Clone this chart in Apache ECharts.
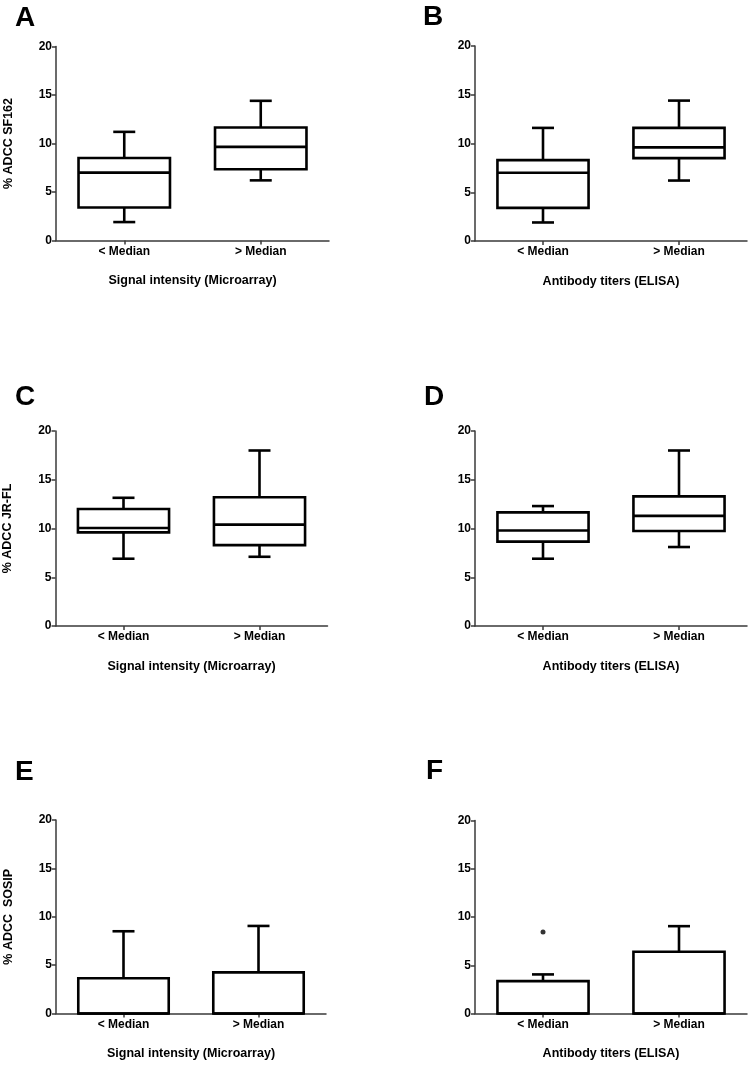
<!DOCTYPE html>
<html>
<head>
<meta charset="utf-8">
<script src="https://cdn.jsdelivr.net/npm/echarts@6/dist/echarts.min.js"></script>
<style>
html,body{margin:0;padding:0;background:#fff;}
#chart{width:752px;height:1066px;}
</style>
</head>
<body>
<div id="chart"></div>
<script>
// ---- data (each box: [min, Q1, median, Q3, max]) ----
const categories = ['< Median', '> Median'];
const yTicks = [0, 5, 10, 15, 20];
const panelLetters = ['A', 'B', 'C', 'D', 'E', 'F'];
const yTitles = ['% ADCC SF162', '', '% ADCC JR-FL', '', '% ADCC  SOSIP', ''];
const xTitles = ['Signal intensity (Microarray)', 'Antibody titers (ELISA)',
                 'Signal intensity (Microarray)', 'Antibody titers (ELISA)',
                 'Signal intensity (Microarray)', 'Antibody titers (ELISA)'];
const boxA = [[1.9, 3.4, 7.0, 8.5, 11.2], [6.2, 7.35, 9.65, 11.65, 14.4]];
const boxB = [[1.9, 3.4, 7.0, 8.3, 11.6], [6.2, 8.5, 9.6, 11.6, 14.4]];
const boxC = [[6.9, 9.6, 10.05, 12.0, 13.15], [7.1, 8.3, 10.4, 13.2, 18.0]];
const boxD = [[6.9, 8.65, 9.8, 11.65, 12.3], [8.1, 9.75, 11.3, 13.3, 18.0]];
const boxE = [[0, 0, 0, 3.65, 8.5], [0, 0, 0, 4.25, 9.05]];
const boxF = [[0, 0, 0, 3.35, 4.05], [0, 0, 0, 6.4, 9.05]];
const outliersF = [[0, 8.45]];

const panels = [boxA, boxB, boxC, boxD, boxE, boxF];
const outliers = [[], [], [], [], [], outliersF];

// ---- layout ----
const grids = [
  {left: 56, top: 46.5, width: 273, height: 194},
  {left: 475, top: 46, width: 272, height: 195},
  {left: 55.5, top: 431, width: 272, height: 195},
  {left: 475, top: 431, width: 272, height: 195},
  {left: 56, top: 820, width: 270, height: 193.5},
  {left: 475, top: 820.5, width: 272, height: 193}
];
const letterPos = [[15, 17], [423, 16], [15, 396], [424, 396], [15, 771], [426, 770]];
const FONT = '"Liberation Sans", Arial, Helvetica, sans-serif';
const AXIS_COLOR = '#3a3a3a';

function renderBox(params, api) {
  const xi = api.value(0);
  const vmin = api.value(1), q1 = api.value(2), med = api.value(3), q3 = api.value(4), vmax = api.value(5);
  const band = api.size([1, 0])[0];
  const bw = band * 0.67;
  const cw = 22;
  const pMin = api.coord([xi, vmin]);
  const pQ1 = api.coord([xi, q1]);
  const pMed = api.coord([xi, med]);
  const pQ3 = api.coord([xi, q3]);
  const pMax = api.coord([xi, vmax]);
  const cx = pMed[0];
  const st = {stroke: '#000', lineWidth: 2.6, fill: null};
  const children = [];
  if (vmax > q3) {
    children.push({type: 'line', shape: {x1: cx, y1: pQ3[1], x2: cx, y2: pMax[1]}, style: st});
    children.push({type: 'line', shape: {x1: cx - cw / 2, y1: pMax[1], x2: cx + cw / 2, y2: pMax[1]}, style: st});
  }
  if (vmin < q1) {
    children.push({type: 'line', shape: {x1: cx, y1: pQ1[1], x2: cx, y2: pMin[1]}, style: st});
    children.push({type: 'line', shape: {x1: cx - cw / 2, y1: pMin[1], x2: cx + cw / 2, y2: pMin[1]}, style: st});
  }
  children.push({type: 'rect', shape: {x: cx - bw / 2, y: pQ3[1], width: bw, height: pQ1[1] - pQ3[1]},
    style: {stroke: '#000', lineWidth: 2.6, fill: '#fff'}});
  children.push({type: 'line', shape: {x1: cx - bw / 2, y1: pMed[1], x2: cx + bw / 2, y2: pMed[1]}, style: st});
  return {type: 'group', children: children};
}

const option = {
  animation: false,
  backgroundColor: '#fff',
  grid: grids.map(g => Object.assign({containLabel: false}, g)),
  xAxis: grids.map((g, i) => ({
    type: 'category', gridIndex: i, data: categories,
    name: xTitles[i], nameLocation: 'middle', nameGap: 34,
    nameTextStyle: {fontFamily: FONT, fontWeight: 'bold', fontSize: 12.5, color: '#000'},
    axisLine: {show: true, lineStyle: {color: AXIS_COLOR, width: 1.5}},
    axisTick: {show: true, alignWithLabel: true, length: 4, lineStyle: {color: AXIS_COLOR, width: 1.5}},
    axisLabel: {fontFamily: FONT, fontWeight: 'bold', fontSize: 12, color: '#000', margin: 5},
    splitLine: {show: false}
  })),
  yAxis: grids.map((g, i) => ({
    type: 'value', gridIndex: i, min: yTicks[0], max: yTicks[yTicks.length - 1], interval: 5,
    name: yTitles[i], nameLocation: 'middle', nameGap: 41, nameRotate: 90,
    nameTextStyle: {fontFamily: FONT, fontWeight: 'bold', fontSize: 12.5, color: '#000'},
    axisLine: {show: true, lineStyle: {color: AXIS_COLOR, width: 1.5}},
    axisTick: {show: true, length: 4, lineStyle: {color: AXIS_COLOR, width: 1.5}},
    axisLabel: {fontFamily: FONT, fontWeight: 'bold', fontSize: 12, color: '#000', margin: 4},
    splitLine: {show: false}
  })),
  graphic: panelLetters.map((L, i) => ({
    type: 'text', left: letterPos[i][0], top: letterPos[i][1] - 13,
    style: {text: L, font: 'bold 28px ' + FONT, fill: '#000'}
  })),
  series: []
};

panels.forEach((p, i) => {
  option.series.push({
    type: 'custom', xAxisIndex: i, yAxisIndex: i,
    renderItem: renderBox,
    encode: {x: 0, y: [1, 2, 3, 4, 5]},
    data: p.map((b, k) => [k].concat(b)),
    z: 5
  });
  if (outliers[i].length) {
    option.series.push({
      type: 'scatter', xAxisIndex: i, yAxisIndex: i,
      data: outliers[i], symbol: 'circle', symbolSize: 5,
      itemStyle: {color: '#000'}, z: 6
    });
  }
});

const chart = echarts.init(document.getElementById('chart'), null, {renderer: 'canvas'});
chart.setOption(option);
</script>
</body>
</html>
